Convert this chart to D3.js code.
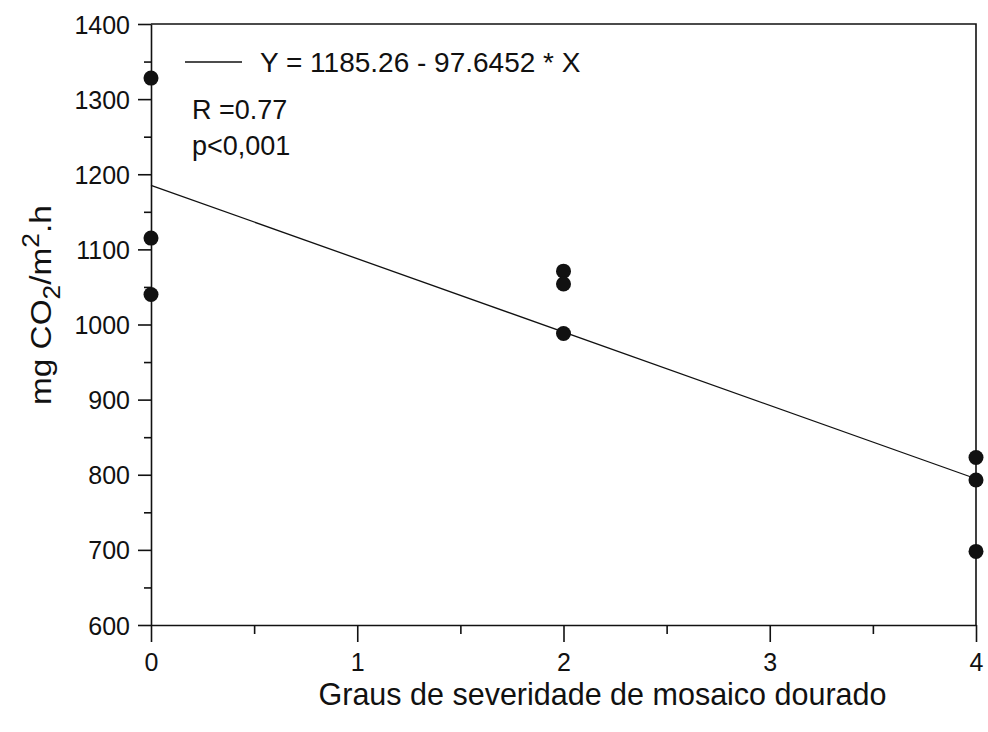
<!DOCTYPE html>
<html>
<head>
<meta charset="utf-8">
<script src="https://cdn.jsdelivr.net/npm/d3@7"></script>
<style>
  html, body { margin: 0; padding: 0; background: #fff; }
  svg { display: block; }
  text { font-family: "Liberation Sans", Arial, Helvetica, sans-serif; fill: #111; }
</style>
</head>
<body>
<svg id="chart" width="988" height="732"></svg>
<script>
// Observations: severity grade of golden mosaic vs CO2 assimilation
const severity = [0, 0, 0, 2, 2, 2, 4, 4, 4];
const assimilation = [1328, 1115, 1040, 1071, 1054, 988, 823, 793, 698];

// Fitted regression
const intercept = 1185.26;
const slope = -97.6452;
const fitX = [0, 4];

const xMajorTicks = [0, 1, 2, 3, 4];
const xMinorTicks = [0.5, 1.5, 2.5, 3.5];
const yMajorTicks = [600, 700, 800, 900, 1000, 1100, 1200, 1300, 1400];
const yMinorTicks = [650, 750, 850, 950, 1050, 1150, 1250, 1350];

const equationText = "Y = 1185.26 - 97.6452 * X";
const rText = "R =0.77";
const pText = "p<0,001";
const xTitle = "Graus de severidade de mosaico dourado";

const svg = d3.select("#chart");
const ink = "#111";
const fontStack = '"Liberation Sans", Arial, Helvetica, sans-serif';

const x = d3.scaleLinear().domain([0, 4]).range([151, 976]);
const y = d3.scaleLinear().domain([600, 1400]).range([625, 24]);

// Minor ticks (shorter, no labels)
svg.append("g")
  .attr("transform", `translate(${x(0)},0)`)
  .call(d3.axisLeft(y).tickValues(yMinorTicks).tickSize(7).tickFormat(""))
  .call(g => g.select(".domain").remove());
svg.append("g")
  .attr("transform", `translate(0,${y(600)})`)
  .call(d3.axisBottom(x).tickValues(xMinorTicks).tickSize(9).tickFormat(""))
  .call(g => g.select(".domain").remove());

// Major axes
const yAxis = svg.append("g")
  .attr("transform", `translate(${x(0)},0)`)
  .call(d3.axisLeft(y).tickValues(yMajorTicks).tickFormat(d3.format("d"))
    .tickSize(13).tickPadding(8).tickSizeOuter(0));
yAxis.selectAll("text").attr("font-size", 25).attr("dy", "0.36em");

const xAxis = svg.append("g")
  .attr("transform", `translate(0,${y(600)})`)
  .call(d3.axisBottom(x).tickValues(xMajorTicks).tickFormat(d3.format("d"))
    .tickSize(17).tickPadding(11).tickSizeOuter(0));
xAxis.selectAll("text").attr("font-size", 25);

svg.selectAll(".tick line, .domain").attr("stroke", ink).attr("stroke-width", 1.6);
svg.selectAll(".tick text").attr("fill", ink).style("font-family", fontStack);

// Frame top and right
svg.append("path")
  .attr("d", `M${x(0)},${y(1400)}H${x(4)}V${y(600)}`)
  .attr("fill", "none").attr("stroke", ink).attr("stroke-width", 1.6);

// Regression line
const line = d3.line().x(d => x(d)).y(d => y(intercept + slope * d));
svg.append("path")
  .datum(fitX)
  .attr("d", line)
  .attr("fill", "none").attr("stroke", ink).attr("stroke-width", 1.3);

// Data points
svg.append("g").selectAll("circle")
  .data(severity.map((s, i) => [s, assimilation[i]]))
  .join("circle")
  .attr("cx", d => x(d[0]))
  .attr("cy", d => y(d[1]))
  .attr("r", 7.5)
  .attr("fill", "#111");

// Legend
svg.append("line")
  .attr("x1", 185).attr("x2", 242).attr("y1", 62).attr("y2", 62)
  .attr("stroke", ink).attr("stroke-width", 1.3);
svg.append("text")
  .attr("x", 260).attr("y", 71.5)
  .attr("font-size", 28)
  .text(equationText);
svg.append("text")
  .attr("x", 192).attr("y", 119)
  .attr("font-size", 27)
  .text(rText);
svg.append("text")
  .attr("x", 192).attr("y", 155)
  .attr("font-size", 27)
  .text(pText);

// Axis titles
svg.append("text")
  .attr("x", (318 + 887) / 2).attr("y", 705)
  .attr("text-anchor", "middle")
  .attr("font-size", 30.5)
  .text(xTitle);

const yTitle = svg.append("text")
  .attr("transform", "translate(51,405) rotate(-90) scale(1.15,1)")
  .attr("font-size", 29);
yTitle.append("tspan").text("mg CO");
yTitle.append("tspan").attr("font-size", 23).attr("dy", 9).text("2");
yTitle.append("tspan").attr("dy", -9).text("/m");
yTitle.append("tspan").attr("font-size", 23).attr("dy", -12).text("2");
yTitle.append("tspan").attr("dy", 12).text(".h");
</script>
</body>
</html>
